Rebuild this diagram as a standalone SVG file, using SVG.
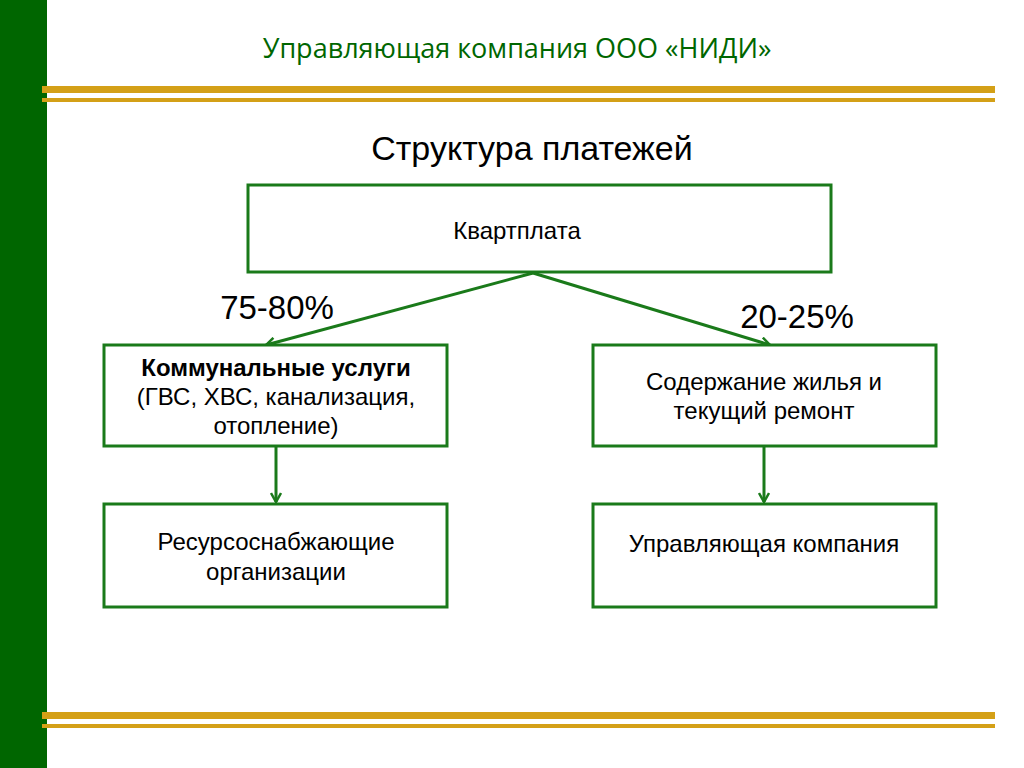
<svg xmlns="http://www.w3.org/2000/svg" width="1024" height="768" viewBox="0 0 1024 768">
<style>
.box{fill:#fff;stroke:#1a7a1a;stroke-width:3}
.t{font-family:"Liberation Sans",Arial,sans-serif;font-size:24px;fill:#000;text-anchor:middle}
.c{stroke:#1a7a1a;stroke-width:3;fill:none;marker-end:url(#a)}
</style>
<defs><marker id="a" markerWidth="12" markerHeight="12" refX="10" refY="6" orient="auto" markerUnits="userSpaceOnUse"><path d="M1,1 L10,6 L1,11" fill="none" stroke="#1a7a1a" stroke-width="2.5"/></marker></defs>
<rect width="1024" height="768" fill="#fff"/>
<rect x="0" y="0" width="47" height="768" fill="#006600"/>
<rect x="42" y="86" width="953" height="7" fill="#d4a017"/>
<rect x="42" y="98" width="953" height="4" fill="#d4a017"/>
<rect x="42" y="712" width="953" height="7" fill="#d4a017"/>
<rect x="42" y="724" width="953" height="4" fill="#d4a017"/>
<text x="517" y="58" font-family="'Open Sans','Noto Sans',sans-serif" font-size="27" fill="#006600" text-anchor="middle">Управляющая компания ООО «НИДИ»</text>
<text x="532" y="160" class="t" style="font-size:34px">Структура платежей</text>
<g id="connectors">
<line x1="533" y1="273" x2="266" y2="345" class="c"/>
<line x1="533" y1="273" x2="770" y2="345" class="c"/>
<line x1="276" y1="447" x2="276" y2="502" class="c"/>
<line x1="764" y1="447" x2="764" y2="502" class="c"/>
</g>
<text x="277" y="319" class="t" style="font-size:33px">75-80%</text>
<text x="797" y="328" class="t" style="font-size:33px">20-25%</text>
<g id="n1"><rect x="248" y="185" width="583" height="87" class="box"/><text x="517" y="239" class="t">Квартплата</text></g>
<g id="n2"><rect x="104" y="345" width="343" height="101" class="box"/>
<text x="276" y="376" class="t" font-weight="bold">Коммунальные услуги</text>
<text x="276" y="405" class="t">(ГВС, ХВС, канализация,</text>
<text x="276" y="434" class="t">отопление)</text></g>
<g id="n3"><rect x="593" y="345" width="343" height="101" class="box"/>
<text x="764" y="390" class="t">Содержание жилья и</text>
<text x="764" y="419" class="t">текущий ремонт</text></g>
<g id="n4"><rect x="104" y="504" width="343" height="103" class="box"/>
<text x="276" y="550" class="t">Ресурсоснабжающие</text>
<text x="276" y="580" class="t">организации</text></g>
<g id="n5"><rect x="593" y="504" width="343" height="103" class="box"/>
<text x="764" y="552" class="t">Управляющая компания</text></g>
</svg>
